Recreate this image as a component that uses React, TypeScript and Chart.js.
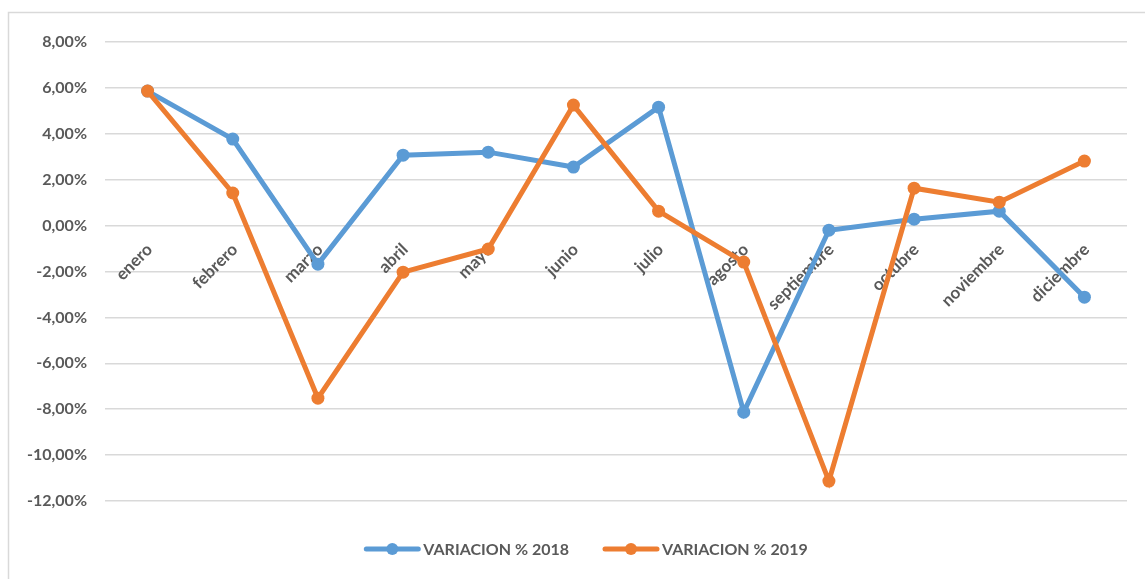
import React, { useEffect, useRef } from "react";
import { Chart, registerables } from "chart.js";

Chart.register(...registerables);

const categories = [
  "enero", "febrero", "marzo", "abril", "mayo", "junio",
  "julio", "agosto", "septiembre", "octubre", "noviembre", "diciembre",
];
const variacion2018 = [5.86, 3.77, -1.68, 3.07, 3.2, 2.55, 5.16, -8.13, -0.2, 0.28, 0.63, -3.12];
const variacion2019 = [5.86, 1.42, -7.52, -2.03, -1.02, 5.25, 0.63, -1.59, -11.13, 1.63, 1.02, 2.81];
const seriesLabels = ["VARIACION % 2018", "VARIACION % 2019"];
const yTicks = [-12, -10, -8, -6, -4, -2, 0, 2, 4, 6, 8];

const BLUE = "#5B9BD5";
const ORANGE = "#ED7D31";
const TEXT = "#595959";
const GRID = "#d9d9d9";
const FONT = "Lato, 'Open Sans', sans-serif";

const fmt = (v: number) => v.toFixed(2).replace(".", ",") + "%";

const frameAndLabels = {
  id: "frameAndLabels",
  beforeDraw(chart: any) {
    const ctx = chart.ctx;
    ctx.save();
    ctx.strokeStyle = GRID;
    ctx.lineWidth = 1.5;
    ctx.strokeRect(8.5, 12.5, 1400, 800);
    ctx.restore();
  },
  beforeDatasetsDraw(chart: any) {
    const ctx = chart.ctx;
    const xs = chart.scales.x;
    const ys = chart.scales.y;
    const y0 = ys.getPixelForValue(0);
    ctx.save();
    ctx.fillStyle = TEXT;
    ctx.font = `bold 17px ${FONT}`;
    ctx.textAlign = "right";
    ctx.textBaseline = "middle";
    categories.forEach((c, i) => {
      const x = xs.getPixelForValue(i);
      ctx.save();
      ctx.translate(x + 2, y0 + 21);
      ctx.rotate(-Math.PI / 4);
      ctx.fillText(c, 0, 0);
      ctx.restore();
    });
    ctx.restore();
  },
  afterDraw(chart: any) {
    const ctx = chart.ctx;
    ctx.save();
    ctx.font = `bold 16px ${FONT}`;
    const lineW = 56;
    const gapText = 3;
    const gapItem = 34;
    const colors = [BLUE, ORANGE];
    const widths = seriesLabels.map((l) => ctx.measureText(l).width);
    const total = widths.reduce((a, w) => a + lineW + gapText + w, 0) + gapItem;
    let x = 586 - total / 2;
    const y = 549;
    seriesLabels.forEach((l, i) => {
      ctx.strokeStyle = colors[i];
      ctx.lineWidth = 5;
      ctx.lineCap = "round";
      ctx.beginPath();
      ctx.moveTo(x + 2, y);
      ctx.lineTo(x + lineW - 2, y);
      ctx.stroke();
      ctx.fillStyle = colors[i];
      ctx.beginPath();
      ctx.arc(x + lineW / 2, y, 6, 0, Math.PI * 2);
      ctx.fill();
      ctx.fillStyle = TEXT;
      ctx.textAlign = "left";
      ctx.textBaseline = "middle";
      ctx.fillText(l, x + lineW + gapText, y + 1);
      x += lineW + gapText + widths[i] + gapItem;
    });
    ctx.restore();
  },
};

export default function App() {
  const ref = useRef<HTMLCanvasElement | null>(null);
  useEffect(() => {
    if (!ref.current) return;
    const chart = new Chart(ref.current, {
      type: "line",
      data: {
        labels: categories,
        datasets: [
          {
            label: seriesLabels[0],
            data: variacion2018,
            borderColor: BLUE,
            backgroundColor: BLUE,
            borderWidth: 5,
            pointRadius: 6.5,
            pointBorderWidth: 0,
            pointBackgroundColor: BLUE,
            tension: 0,
            order: 1,
          },
          {
            label: seriesLabels[1],
            data: variacion2019,
            borderColor: ORANGE,
            backgroundColor: ORANGE,
            borderWidth: 5,
            pointRadius: 6.5,
            pointBorderWidth: 0,
            pointBackgroundColor: ORANGE,
            tension: 0,
            order: 0,
          },
        ],
      },
      options: {
        animation: false,
        responsive: false,
        maintainAspectRatio: false,
        layout: { padding: { left: 0, top: 42, right: 18, bottom: 78 } },
        plugins: {
          legend: { display: false },
          tooltip: { enabled: false },
        },
        scales: {
          x: {
            type: "category",
            offset: true,
            display: false,
          },
          y: {
            min: -12,
            max: 8,
            afterFit(scale: any) {
              scale.width = 105;
            },
            afterBuildTicks(scale: any) {
              scale.ticks = yTicks.map((v) => ({ value: v }));
            },
            border: { display: false },
            grid: { color: GRID, lineWidth: 1.5, drawTicks: false },
            ticks: {
              padding: 18,
              color: TEXT,
              font: { family: FONT, size: 16, weight: "bold" },
              callback: (v: any) => fmt(Number(v)),
            },
          },
        },
      },
      plugins: [frameAndLabels],
    });
    return () => chart.destroy();
  }, []);
  return (
    <div style={{ position: "absolute", left: 0, top: 0, width: 1145, height: 579, background: "#fff" }}>
      <canvas ref={ref} width={1145} height={579} style={{ display: "block" }} />
    </div>
  );
}
